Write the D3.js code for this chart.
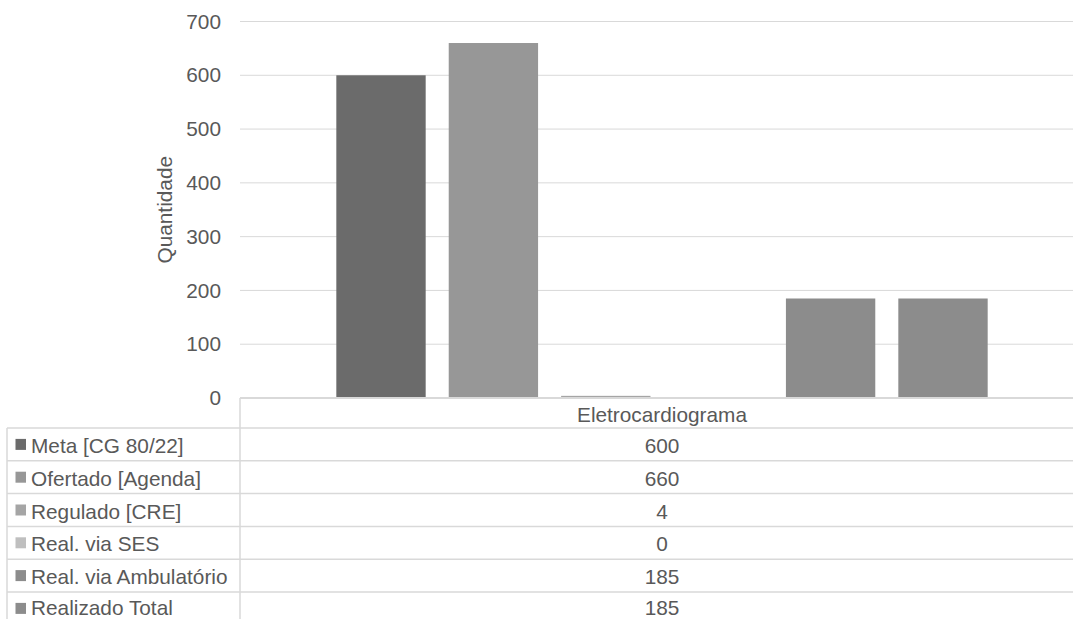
<!DOCTYPE html>
<html><head><meta charset="utf-8">
<script src="https://cdn.jsdelivr.net/npm/d3@7"></script>
<style>
html,body{margin:0;padding:0;background:#fff;overflow:hidden}
text{font-family:"Liberation Sans",Arial,sans-serif;fill:#595959}
</style></head>
<body>
<svg id="chart" width="1073" height="619"></svg>
<script>
const categories = ["Eletrocardiograma"];
const seriesNames = ["Meta [CG 80/22]","Ofertado [Agenda]","Regulado [CRE]","Real. via SES","Real. via Ambulatório","Realizado Total"];
const seriesValues = [600, 660, 4, 0, 185, 185];
const seriesColors = ["#6b6b6b","#979797","#a5a5a5","#bfbfbf","#8c8c8c","#8c8c8c"];
const yTicks = [0,100,200,300,400,500,600,700];
const yTitle = "Quantidade";

(function(){
const svg = d3.select("#chart");
const pLeft = 240, pRight = 1084, pTop = 21.5, pBottom = 398;
const fs = 20.8;

const y = d3.scaleLinear().domain([0,700]).range([pBottom, pTop]);
const x0 = d3.scaleBand().domain(categories).range([pLeft, pRight]);
const x1 = d3.scaleBand().domain(seriesNames).range([84.8, 759.2]).paddingInner(0.205).paddingOuter(0.1025);

const yAxis = d3.axisLeft(y).tickValues(yTicks).tickSize(0).tickPadding(19);
const gAxis = svg.append("g").attr("transform", `translate(${pLeft},0)`).call(yAxis);
gAxis.select(".domain").remove();
gAxis.selectAll("text").style("font-size", fs+"px").attr("fill","#595959").style("font-family","Liberation Sans, Arial, sans-serif");
svg.append("g").selectAll("line").data(yTicks.filter(d=>d>0)).join("line")
  .attr("x1", pLeft).attr("x2", pRight).attr("y1", d=>y(d)).attr("y2", d=>y(d))
  .attr("stroke", "#d9d9d9").attr("stroke-width", 1);

const cat = svg.append("g").selectAll("g").data(categories).join("g")
  .attr("transform", d=>`translate(${x0(d)},0)`);
cat.selectAll("rect").data(seriesNames.map((s,i)=>({s, v: seriesValues[i], c: seriesColors[i]}))).join("rect")
  .attr("x", d=>x1(d.s)).attr("width", x1.bandwidth())
  .attr("y", d=>y(d.v)).attr("height", d=>pBottom - y(d.v))
  .attr("fill", d=>d.c);

svg.append("text").attr("transform", `translate(164,${(pTop+pBottom)/2}) rotate(-90)`)
  .attr("text-anchor","middle").attr("dominant-baseline","central")
  .style("font-size", fs+"px").text(yTitle);

const tableLeft = 7, headerTop = pBottom, headerH = 30, rowH = 32.8;
const rowTops = seriesNames.map((s,i)=> headerTop + headerH + i*rowH);
const lineColor = "#d9d9d9";
const tg = svg.append("g");
tg.append("line").attr("x1", pLeft).attr("x2", 1073).attr("y1", pBottom).attr("y2", pBottom)
  .attr("stroke", lineColor).attr("stroke-width", 2);
tg.selectAll("line.row").data(rowTops).join("line").attr("class","row")
  .attr("x1", tableLeft).attr("x2", 1073).attr("y1", d=>d).attr("y2", d=>d)
  .attr("stroke", lineColor).attr("stroke-width", 1.5);
tg.append("line").attr("x1", pLeft).attr("x2", pLeft).attr("y1", pBottom).attr("y2", 619)
  .attr("stroke", lineColor).attr("stroke-width", 1.5);
tg.append("line").attr("x1", tableLeft).attr("x2", tableLeft).attr("y1", rowTops[0]).attr("y2", 619)
  .attr("stroke", lineColor).attr("stroke-width", 1.5);
tg.selectAll("text.cat").data(categories).join("text").attr("class","cat")
  .attr("x", d=>x0(d) + x0.bandwidth()/2).attr("y", headerTop + headerH/2 + 1)
  .attr("text-anchor","middle").attr("dominant-baseline","central")
  .style("font-size", fs+"px").text(d=>d);
const rows = tg.selectAll("g.r").data(seriesNames.map((s,i)=>({s, v: seriesValues[i], c: seriesColors[i], t: rowTops[i]}))).join("g").attr("class","r");
rows.append("rect").attr("x", 15.5).attr("y", d=>d.t + rowH/2 - 5.5).attr("width", 10.5).attr("height", 11).attr("fill", d=>d.c);
rows.append("text").attr("x", 31).attr("y", d=>Math.min(d.t + rowH/2 + 1, 607)).attr("dominant-baseline","central")
  .style("font-size", fs+"px").text(d=>d.s);
rows.append("text").attr("x", x0(categories[0]) + x0.bandwidth()/2).attr("y", d=>Math.min(d.t + rowH/2 + 1, 607))
  .attr("text-anchor","middle").attr("dominant-baseline","central")
  .style("font-size", fs+"px").text(d=>d.v);
})();
</script>
</body></html>
